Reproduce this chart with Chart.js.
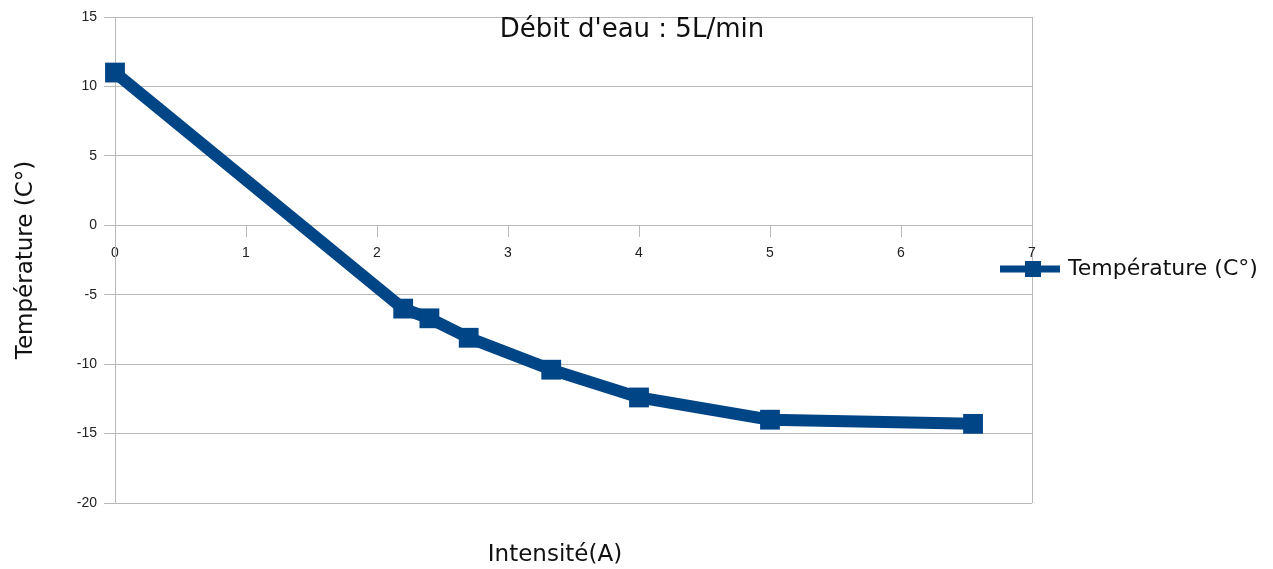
<!DOCTYPE html>
<html>
<head>
<meta charset="utf-8">
<script src="https://cdn.jsdelivr.net/npm/chart.js@4/dist/chart.umd.min.js"></script>
<style>
  html, body { margin: 0; padding: 0; background: #fff; }
  #wrap { width: 1273px; height: 569px; position: relative; }
</style>
</head>
<body>
<div id="wrap"><canvas id="chart"></canvas></div>
<script>
// Débit d'eau 5 L/min : température en fonction de l'intensité
const intensite = [0, 2.2, 2.4, 2.7, 3.33, 4, 5, 6.55];
const temperature = [11, -6, -6.7, -8.1, -10.4, -12.4, -14, -14.3];
const xTicks = [0, 1, 2, 3, 4, 5, 6, 7];
const yTicks = [-20, -15, -10, -5, 0, 5, 10, 15];

const seriesName = 'Température (C°)';
const chartTitle = "Débit d'eau : 5L/min";
const xTitle = 'Intensité(A)';

const blue = '#004586';
const gridGrey = '#b9b9b9';

// title, x title and legend overlap the plot in the original, so draw them by hand
const overlay = {
  id: 'overlay',
  afterDraw(chart) {
    const { ctx } = chart;
    ctx.save();
    ctx.fillStyle = '#111';
    ctx.textBaseline = 'middle';

    ctx.font = '26px "DejaVu Sans"';
    ctx.textAlign = 'center';
    ctx.fillText(chartTitle, 632, 30);

    ctx.font = '23px "DejaVu Sans"';
    ctx.fillText(xTitle, 555, 555);

    // legend
    const ly = 269;
    ctx.strokeStyle = blue;
    ctx.lineWidth = 7;
    ctx.beginPath();
    ctx.moveTo(1000, ly);
    ctx.lineTo(1060, ly);
    ctx.stroke();
    ctx.fillStyle = blue;
    ctx.fillRect(1025, ly - 8, 16, 16);

    ctx.fillStyle = '#111';
    ctx.font = '22px "DejaVu Sans"';
    ctx.textAlign = 'left';
    ctx.fillText(seriesName, 1068, ly);
    ctx.restore();
  }
};

new Chart(document.getElementById('chart'), {
  type: 'line',
  data: {
    datasets: [{
      label: seriesName,
      data: intensite.map((x, i) => ({ x: x, y: temperature[i] })),
      borderColor: blue,
      backgroundColor: blue,
      borderWidth: 12,
      pointStyle: 'rect',
      pointRadius: 14,
      pointBorderWidth: 0,
      pointHoverRadius: 14,
      tension: 0,
      clip: false
    }]
  },
  options: {
    responsive: true,
    maintainAspectRatio: false,
    animation: false,
    layout: { padding: { top: 17, right: 241, bottom: 66, left: 0 } },
    plugins: {
      legend: { display: false },
      title: { display: false },
      tooltip: { enabled: false }
    },
    scales: {
      x: {
        type: 'linear',
        position: { y: 0 },
        min: xTicks[0],
        max: xTicks[xTicks.length - 1],
        afterBuildTicks: s => { s.ticks = xTicks.map(v => ({ value: v })); },
        grid: {
          color: c => (c.tick && (c.tick.value === xTicks[0] || c.tick.value === xTicks[xTicks.length - 1])) ? gridGrey : 'rgba(0,0,0,0)',
          tickColor: gridGrey,
          tickLength: 11,
          lineWidth: 1
        },
        border: { display: true, color: gridGrey },
        ticks: {
          padding: 8,
          color: '#222',
          font: { family: '"Liberation Sans"', size: 14 },
          maxRotation: 0
        }
      },
      y: {
        type: 'linear',
        min: yTicks[0],
        max: yTicks[yTicks.length - 1],
        afterBuildTicks: s => { s.ticks = yTicks.map(v => ({ value: v })); },
        afterFit: s => { s.width = 115; },
        grid: { color: gridGrey, tickLength: 11, lineWidth: 1 },
        border: { display: true, color: gridGrey },
        ticks: {
          padding: 7,
          color: '#222',
          font: { family: '"Liberation Sans"', size: 14 }
        },
        title: {
          display: true,
          text: seriesName,
          color: '#111',
          font: { family: '"DejaVu Sans"', size: 23 },
          padding: { top: 12, bottom: 0 }
        }
      }
    }
  },
  plugins: [overlay]
});
</script>
</body>
</html>
